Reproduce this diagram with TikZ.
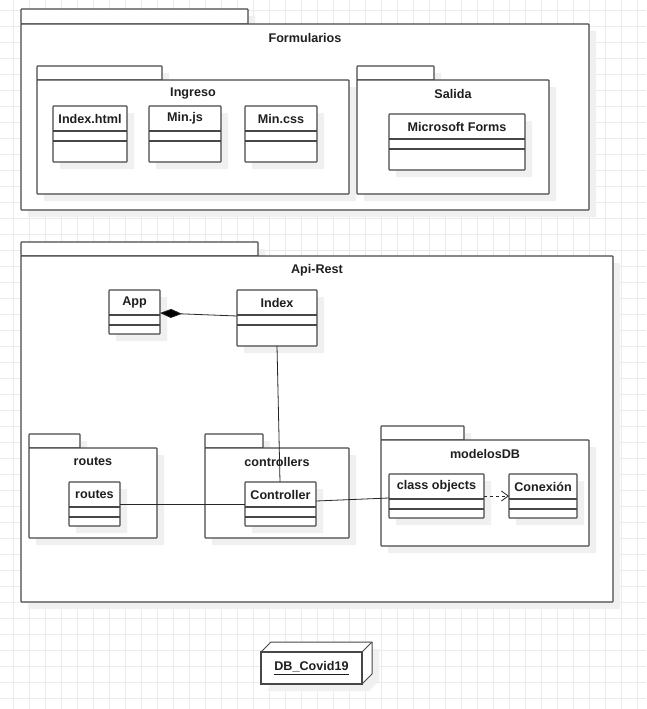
\documentclass[tikz,border=0pt]{standalone}
\usepackage{fontspec}
\setmainfont{Liberation Sans}
\usetikzlibrary{calc,arrows.meta,shadows}
\newcommand\umlpkg[8]{% name, x1, bodytop, x2, y2, tab right, tab top, label
  \path[box] (#2,#7) rectangle (#6,#3);
  \node[box, minimum width=#4-#2, minimum height=#5-#3, anchor=north west] (#1) at (#2,#3) {};
  \node[ttl] (#1-t) at ($(#1.north)+(0,13.8)$) {#8};
}
\newcommand\umlclass[6]{% name, x, y, w, h, label
  \node[box, minimum width=#4, minimum height=#5, anchor=north west] (#1) at (#2,#3) {};
  \node[ttl] (#1-t) at ($(#1.north)+(0,12.5)$) {#6};
  \draw[ln] ($(#1.north west)+(0,25)$) -- ($(#1.north east)+(0,25)$);
  \draw[ln] ($(#1.north west)+(0,35)$) -- ($(#1.north east)+(0,35)$);
}
\begin{document}
\begin{tikzpicture}[x=1pt,y=-1pt,
  ln/.style={draw=black!72, line width=1.1pt},
  box/.style={ln, fill=white, inner sep=0pt, outer sep=0pt, rectangle, rounded corners=0.6pt,
    drop shadow={shadow xshift=7pt, shadow yshift=-7pt, fill=black!6, opacity=1}},
  ttl/.style={font=\fontsize{12.6}{14}\selectfont\bfseries, text=black!88, inner sep=0pt, anchor=center},
  conn/.style={draw=black!85, line width=0.8pt},
  gridl/.style={draw=black!8, line width=0.8pt},
]
\useasboundingbox (0,0) rectangle (646,709);
\fill[white] (0,0) rectangle (646,709);
\foreach \i in {0,...,39} \draw[gridl] ({13.3+16*\i},0) -- ({13.3+16*\i},709);
\foreach \j in {0,...,44} \draw[gridl] (0,{10+16*\j}) -- (646,{10+16*\j});

% Formularios
\umlpkg{formularios}{21}{24}{589}{210}{248}{9}{Formularios}
\umlpkg{ingreso}{37}{80}{349}{194}{162}{66}{Ingreso}
\umlpkg{salida}{357}{80}{549}{194}{434}{66}{Salida}
\umlclass{idxhtml}{53}{106}{74}{56}{Index.html}
\umlclass{minjs}{149}{106}{72}{56}{Min.js}
\umlclass{mincss}{245}{106}{72}{56}{Min.css}
\umlclass{msforms}{389}{114}{136}{56}{Microsoft Forms}

% Api-Rest
\umlpkg{apirest}{21}{256}{613}{602}{258}{242}{Api-Rest}
\umlclass{app}{109}{290}{51}{44}{App}
\umlclass{index}{237}{290}{80}{56}{Index}
\umlpkg{routespkg}{29}{448}{157}{538}{80}{434}{routes}
\umlpkg{controllers}{205}{448}{349}{538}{263}{434}{controllers}
\umlpkg{modelosdb}{381}{440}{589}{546}{464}{426}{modelosDB}
\umlclass{routescls}{69}{482}{51}{44}{routes}
\umlclass{controller}{245}{482}{71}{44}{Controller}
\umlclass{classobj}{389}{474}{95}{44}{class objects}
\umlclass{conexion}{509}{474}{68}{44}{Conexión}

% connectors
\draw[conn, -{Diamond[length=22pt,width=9pt,fill=black]}] ($(index.north west)+(0,26)$) -- ($(app.north east)+(0,23)$);
\draw[conn] ($(index.south west)+(40,0)$) -- ($(controller.north west)+(35,0)$);
\draw[conn] ($(routescls.north east)+(0,22)$) -- ($(controller.north west)+(0,22)$);
\draw[conn] ($(controller.north east)+(0,19)$) -- ($(classobj.north west)+(0,24)$);
\draw[conn, dash pattern=on 3pt off 3pt, -{Straight Barb[length=7pt,width=10pt]}] ($(classobj.north east)+(0,22)$) -- ($(conexion.north west)+(0,22)$);

% DB node
\node[inner sep=0pt, outer sep=0pt, minimum width=101, minimum height=32, anchor=north west] (db) at (261,652) {};
\fill[black!6] ($(db.north west)+(17,-3)$) -- ($(db.north east)+(17,-3)$) -- ($(db.south east)+(17,-3)$) -- ($(db.south east)+(7,7)$) -- ($(db.south west)+(7,7)$) -- cycle;
\draw[ln, line width=1pt, fill=white, line join=round] (db.north west) -- ++(10,-10) -- ($(db.north east)+(10,-10)$) -- ($(db.south east)+(10,-10)$) -- (db.south east) -- (db.north east) -- cycle;
\draw[ln, line width=1pt] (db.north east) -- ++(10,-10);
\draw[ln, line width=1.8pt, fill=white] (db.north west) rectangle (db.south east);
\node[ttl] (dbt) at (db.center) {\underline{DB\_Covid19}};
\end{tikzpicture}
\end{document}
